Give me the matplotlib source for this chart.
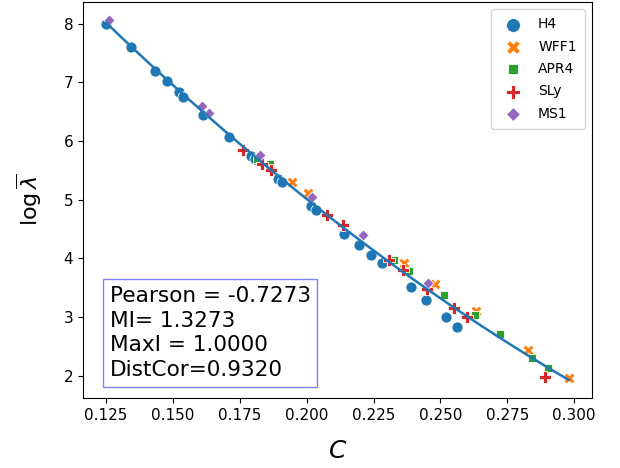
import numpy as np
import matplotlib
matplotlib.use("Agg")
import matplotlib.pyplot as plt

# compactness C and log of dimensionless tidal deformability, per EOS
eos_names = ["H4", "WFF1", "APR4", "SLy", "MS1"]

h4_C = [0.1250, 0.1343, 0.1431, 0.1476, 0.1521, 0.1539, 0.1613, 0.1709, 0.1793, 0.1805,
        0.1892, 0.1908, 0.2016, 0.2034, 0.2138, 0.2196, 0.2241, 0.2281, 0.2389, 0.2446,
        0.2519, 0.2560]
h4_L = [8.00, 7.60, 7.20, 7.02, 6.83, 6.75, 6.44, 6.06, 5.75, 5.70,
        5.36, 5.30, 4.89, 4.83, 4.42, 4.23, 4.06, 3.92, 3.51, 3.29,
        3.01, 2.84]

wff1_C = [0.1946, 0.2005, 0.2365, 0.2479, 0.2632, 0.2829, 0.2980]
wff1_L = [5.30, 5.11, 3.93, 3.56, 3.11, 2.45, 1.96]

apr4_C = [0.1815, 0.1862, 0.2327, 0.2384, 0.2513, 0.2629, 0.2722, 0.2843, 0.2902]
apr4_L = [5.69, 5.60, 3.97, 3.78, 3.38, 3.03, 2.71, 2.31, 2.13]

sly_C = [0.1763, 0.1834, 0.1867, 0.2076, 0.2134, 0.2309, 0.2359, 0.2449, 0.2550, 0.2598, 0.2892]
sly_L = [5.85, 5.60, 5.50, 4.74, 4.57, 3.98, 3.80, 3.48, 3.15, 3.00, 1.99]

ms1_C = [0.1260, 0.1608, 0.1635, 0.1825, 0.2021, 0.2212, 0.2452]
ms1_L = [8.06, 6.59, 6.48, 5.76, 5.05, 4.40, 3.59]

stats_text = "Pearson = -0.7273\nMI= 1.3273\nMaxI = 1.0000\nDistCor=0.9320"

series = [(h4_C, h4_L), (wff1_C, wff1_L), (apr4_C, apr4_L), (sly_C, sly_L), (ms1_C, ms1_L)]
markers = ["o", "X", (4, 0, 45), "P", (4, 0, 0)]
colors = ["C0", "C1", "C2", "C3", "C4"]

fig = plt.figure(figsize=(6.2, 4.68), dpi=100)
ax = fig.add_axes([83 / 620, (468 - 398) / 468, (592 - 83) / 620, (398 - 2) / 468])

for name, (cx, ly), m, c in zip(eos_names, series, markers, colors):
    ax.scatter(cx, ly, s=64, marker=m, color=c, edgecolor="white", linewidth=0.6, label=name)

# quadratic fit over all points
all_C = np.concatenate([np.array(s[0]) for s in series])
all_L = np.concatenate([np.array(s[1]) for s in series])
coef = np.polyfit(all_C, all_L, 2)
xs = np.linspace(all_C.min(), all_C.max(), 100)
ax.plot(xs, np.polyval(coef, xs), color="C0", linewidth=1.8)

ax.set_xticks([0.125, 0.150, 0.175, 0.200, 0.225, 0.250, 0.275, 0.300])
ax.set_yticks([2, 3, 4, 5, 6, 7, 8])
ax.tick_params(labelsize=11)
ax.set_xlabel(r"$C$", fontsize=18, labelpad=12)
ax.set_ylabel(r"$\log\overline{\lambda}$", fontsize=16, labelpad=14)

ax.legend(loc="upper right", fontsize=10, borderpad=0.6, labelspacing=0.6, markerscale=1.25)

ax.text(0.053, 0.045, stats_text, transform=ax.transAxes, fontsize=15.6,
        ha="left", va="bottom", linespacing=1.3,
        bbox=dict(boxstyle="square,pad=0.3", facecolor="white", edgecolor="#8080ff"))

fig.savefig("out.png", dpi=100)
